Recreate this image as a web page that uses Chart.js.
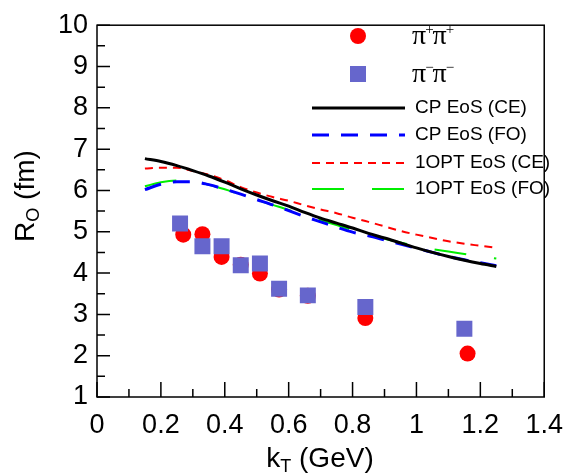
<!DOCTYPE html>
<html lang="en">
<head>
<meta charset="utf-8" />
<title>R_O vs kT</title>
<script src="https://cdn.jsdelivr.net/npm/chart.js@4.4.1/dist/chart.umd.min.js"></script>
<style type="text/css">
  body { margin: 0; background-color: #ffffff; }
  #wrap { width: 575px; height: 474px; }
</style>
</head>
<body>
<div id="wrap"><canvas id="myChart" width="575" height="474"></canvas></div>

<script>
// measured points
var kTPlus   = [0.27, 0.33, 0.39, 0.45, 0.51, 0.57, 0.66, 0.84, 1.16];
var roPlus   = [4.93, 4.94, 4.39, 4.20, 3.99, 3.60, 3.45, 2.91, 2.05];
var kTMinus  = [0.26, 0.33, 0.39, 0.45, 0.51, 0.57, 0.66, 0.84, 1.15];
var roMinus  = [5.20, 4.65, 4.65, 4.19, 4.23, 3.62, 3.46, 3.18, 2.65];

// model curves
var kTModel  = [0.15, 0.20, 0.25, 0.30, 0.35, 0.40, 0.45, 0.50, 0.55, 0.60, 0.65, 0.70,
                0.75, 0.80, 0.85, 0.90, 0.95, 1.00, 1.05, 1.10, 1.15, 1.20, 1.25];
var cpCE     = [6.77, 6.70, 6.60, 6.48, 6.35, 6.20, 6.04, 5.89, 5.75, 5.62, 5.47, 5.33,
                5.21, 5.09, 4.96, 4.85, 4.73, 4.61, 4.50, 4.40, 4.31, 4.23, 4.16];
var cpFO     = [6.02, 6.15, 6.21, 6.21, 6.14, 6.03, 5.91, 5.78, 5.65, 5.51, 5.37, 5.24,
                5.11, 4.99, 4.90, 4.80, 4.70, 4.60, 4.50, 4.40, 4.32, 4.25, 4.18];
var optCE    = [6.53, 6.55, 6.55, 6.47, 6.38, 6.25, 6.08, 5.95, 5.84, 5.75, 5.64, 5.54,
                5.45, 5.34, 5.24, 5.13, 5.02, 4.93, 4.85, 4.77, 4.71, 4.66, 4.61];
var optFO    = [6.10, 6.20, 6.24, 6.22, 6.14, 6.03, 5.90, 5.77, 5.65, 5.53, 5.40, 5.28,
                5.16, 5.04, 4.93, 4.83, 4.74, 4.65, 4.58, 4.52, 4.46, 4.40, 4.35];

var xTicks = [0, 0.2, 0.4, 0.6, 0.8, 1, 1.2, 1.4];
var yTicks = [1, 2, 3, 4, 5, 6, 7, 8, 9, 10];

function pts(xs, ys) {
  return xs.map(function (x, i) { return { x: x, y: ys[i] }; });
}

var FONT = "'Liberation Sans', Arial, sans-serif";
var SERIF = '"Liberation Serif", "Times New Roman", serif';

var frameTicks = {
  id: 'frameTicks',
  afterDraw: function (chart) {
    var ctx = chart.ctx, a = chart.chartArea;
    var xs = chart.scales.x, ys = chart.scales.y;
    ctx.save();
    ctx.strokeStyle = '#000';
    ctx.lineWidth = 1.5;
    ctx.strokeRect(a.left, a.top, a.right - a.left, a.bottom - a.top);
    ctx.beginPath();
    for (var v = 0; v <= 14; v++) {
      var px = xs.getPixelForValue(v / 10);
      var len = (v % 2 === 0) ? 15 : 8;
      ctx.moveTo(px, a.bottom);
      ctx.lineTo(px, a.bottom - len);
    }
    for (var w = 2; w <= 20; w++) {
      var py = ys.getPixelForValue(w / 2);
      var l2 = (w % 2 === 0) ? 13 : 8;
      ctx.moveTo(a.left, py);
      ctx.lineTo(a.left + l2, py);
    }
    ctx.stroke();

    // axis titles
    ctx.fillStyle = '#000';
    ctx.textBaseline = 'alphabetic';
    ctx.font = '28px ' + FONT;
    var w1 = ctx.measureText('k').width;
    var w3 = ctx.measureText(' (GeV)').width;
    ctx.font = '18px ' + FONT;
    var w2 = ctx.measureText('T').width;
    var x0 = 320 - (w1 + w2 + w3) / 2;
    ctx.font = '28px ' + FONT;
    ctx.fillText('k', x0, 467);
    ctx.font = '18px ' + FONT;
    ctx.fillText('T', x0 + w1, 472);
    ctx.font = '28px ' + FONT;
    ctx.fillText(' (GeV)', x0 + w1 + w2, 467);

    ctx.translate(34, 196);
    ctx.rotate(-Math.PI / 2);
    var r1 = ctx.measureText('R').width;
    var r3 = ctx.measureText(' (fm)').width;
    ctx.font = '18px ' + FONT;
    var r2 = ctx.measureText('O').width;
    var s0 = -(r1 + r2 + r3) / 2;
    ctx.font = '28px ' + FONT;
    ctx.fillText('R', s0, 0);
    ctx.font = '18px ' + FONT;
    ctx.fillText('O', s0 + r1, 5);
    ctx.font = '28px ' + FONT;
    ctx.fillText(' (fm)', s0 + r1 + r2, 0);
    ctx.restore();
  }
};

var rootLegend = {
  id: 'rootLegend',
  afterDraw: function (chart) {
    var ctx = chart.ctx, ds = chart.data.datasets;
    ctx.save();
    // marker entries
    ctx.fillStyle = ds[0].backgroundColor;
    ctx.beginPath();
    ctx.arc(358, 36, 8, 0, Math.PI * 2);
    ctx.fill();
    ctx.fillStyle = ds[1].backgroundColor;
    ctx.fillRect(350, 66, 16, 16);

    var sign = ['+', '\u2212'];
    var rowsY = [44, 82];
    for (var k = 0; k < 2; k++) {
      var x = 412;
      for (var j = 0; j < 2; j++) {
        ctx.fillStyle = '#000';
        ctx.textBaseline = 'alphabetic';
        ctx.font = '28px ' + SERIF;
        ctx.fillText('\u03c0', x, rowsY[k]);
        x += ctx.measureText('\u03c0').width - 1;
        ctx.font = '15px ' + SERIF;
        ctx.fillText(sign[k], x, rowsY[k] - 10);
        x += ctx.measureText(sign[k]).width - 1;
      }
    }

    // line entries
    var lineY = [108, 135, 163, 189];
    for (var i = 2; i < 6; i++) {
      var d = ds[i];
      var y = lineY[i - 2];
      ctx.strokeStyle = d.borderColor;
      ctx.lineWidth = d.borderWidth;
      ctx.setLineDash(d.borderDash || []);
      ctx.beginPath();
      ctx.moveTo(312, y);
      ctx.lineTo(405, y);
      ctx.stroke();
      ctx.setLineDash([]);
      ctx.fillStyle = '#000';
      ctx.font = '19px ' + FONT;
      ctx.textBaseline = 'middle';
      ctx.fillText(d.label, 415, y);
    }
    ctx.restore();
  }
};

new Chart(document.getElementById('myChart').getContext('2d'), {
  type: 'scatter',
  data: {
    datasets: [
      {
        label: '\u03c0+\u03c0+',
        data: pts(kTPlus, roPlus),
        pointStyle: 'circle',
        pointRadius: 8,
        backgroundColor: '#ff0000',
        borderWidth: 0,
        order: 1
      },
      {
        label: '\u03c0-\u03c0-',
        data: pts(kTMinus, roMinus),
        pointStyle: 'rect',
        pointRadius: 11.3,
        backgroundColor: '#6666cc',
        borderWidth: 0,
        order: 0
      },
      {
        label: 'CP EoS (CE)',
        data: pts(kTModel, cpCE),
        showLine: true,
        pointRadius: 0,
        borderColor: '#000000',
        borderWidth: 3,
        cubicInterpolationMode: 'monotone',
        order: 2
      },
      {
        label: 'CP EoS (FO)',
        data: pts(kTModel, cpFO),
        showLine: true,
        pointRadius: 0,
        borderColor: '#0000ff',
        borderWidth: 3,
        borderDash: [17, 12],
        cubicInterpolationMode: 'monotone',
        order: 4
      },
      {
        label: '1OPT EoS (CE)',
        data: pts(kTModel, optCE),
        showLine: true,
        pointRadius: 0,
        borderColor: '#ff0000',
        borderWidth: 2,
        borderDash: [8, 6],
        cubicInterpolationMode: 'monotone',
        order: 3
      },
      {
        label: '1OPT EoS (FO)',
        data: pts(kTModel, optFO),
        showLine: true,
        pointRadius: 0,
        borderColor: '#00ee00',
        borderWidth: 2,
        borderDash: [32, 28],
        cubicInterpolationMode: 'monotone',
        order: 5
      }
    ]
  },
  options: {
    responsive: false,
    animation: false,
    layout: { padding: { left: 0, top: 18, right: 23, bottom: 0 } },
    plugins: {
      legend: { display: false },
      tooltip: { enabled: false }
    },
    scales: {
      x: {
        type: 'linear',
        min: 0,
        max: 1.4,
        afterFit: function (s) { s.height = 77; },
        afterBuildTicks: function (s) {
          s.ticks = xTicks.map(function (v) { return { value: v }; });
        },
        grid: { display: false, drawTicks: false },
        border: { display: false },
        ticks: {
          autoSkip: false,
          maxRotation: 0,
          padding: 12,
          color: '#000',
          font: { family: FONT, size: 27 },
          callback: function (v) { return String(Math.round(v * 10) / 10); }
        }
      },
      y: {
        type: 'linear',
        min: 1,
        max: 10,
        afterFit: function (s) { s.width = 97; },
        afterBuildTicks: function (s) {
          s.ticks = yTicks.map(function (v) { return { value: v }; });
        },
        grid: { display: false, drawTicks: false },
        border: { display: false },
        ticks: {
          autoSkip: false,
          padding: 9,
          color: '#000',
          font: { family: FONT, size: 27 },
          callback: function (v) { return String(v); }
        }
      }
    }
  },
  plugins: [frameTicks, rootLegend]
});
</script>
</body>
</html>
